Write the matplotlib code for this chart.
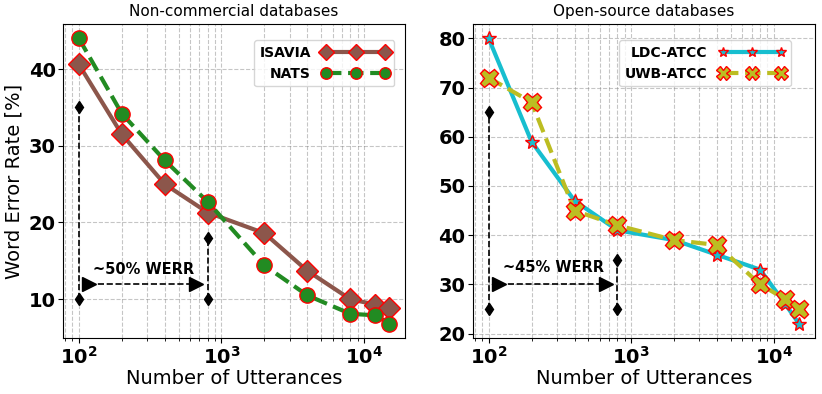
import numpy as np
import matplotlib
matplotlib.use("Agg")
import matplotlib.pyplot as plt
from matplotlib.ticker import FuncFormatter

plt.rcParams["font.weight"] = "bold"

# number of utterances used for fine-tuning
utterances = [100, 200, 400, 800, 2000, 4000, 8000, 12000, 15000]

# WER [%] per database
isavia = [40.6, 31.5, 25.0, 21.3, 18.6, 13.7, 10.0, 9.3, 8.8]
nats = [44.0, 34.2, 28.1, 22.7, 14.4, 10.5, 8.1, 7.9, 6.8]
ldc_atcc = [80, 59, 47, 41, 39, 36, 33, 26, 22]
uwb_atcc = [72, 67, 45, 42, 39, 38, 30, 27, 25]

titles = ["Non-commercial databases", "Open-source databases"]
werr_labels = ["~50% WERR", "~45% WERR"]


def pow10_label(v, pos):
    return r"$\mathbf{10^{%d}}$" % int(round(np.log10(v)))


def style_axis(ax):
    ax.set_xscale("log")
    ax.xaxis.set_major_formatter(FuncFormatter(pow10_label))
    ax.grid(True, which="both", linestyle="--", color="gray", alpha=0.45, linewidth=0.8)
    ax.tick_params(axis="both", which="major", labelsize=14, pad=2)
    ax.set_xlabel("Number of Utterances", fontsize=14, fontweight="normal", labelpad=1)


def draw_werr(ax, left_span, right_span, arrow_y, text, text_y):
    # vertical guides with diamond ends
    ax.plot([100, 100], left_span, "k--d", lw=1.2, ms=6)
    ax.plot([800, 800], right_span, "k--d", lw=1.2, ms=6)
    # horizontal arrow-ish line with triangle ends
    ax.plot([118, 660], [arrow_y, arrow_y], "k--", lw=1.2)
    ax.plot([118, 660], [arrow_y, arrow_y], "k>", ms=10, lw=0)
    ax.text(285, text_y, text, ha="center", va="bottom", fontsize=10.5, fontweight="bold")


fig, (ax1, ax2) = plt.subplots(1, 2, figsize=(8.22, 3.94), dpi=100)
fig.subplots_adjust(left=0.077, right=0.991, top=0.939, bottom=0.142, wspace=0.2)

ax1.plot(utterances, isavia, "-D", color="tab:brown", mec="red", ms=11, lw=3, label="ISAVIA")
ax1.plot(utterances, nats, "--o", color="forestgreen", mec="red", ms=11, lw=3, label="NATS")
ax1.set_ylabel("Word Error Rate [%]", fontsize=14, fontweight="normal")
ax1.set_title(titles[0], fontsize=11, fontweight="normal")
draw_werr(ax1, [10, 35], [10, 18], 12, werr_labels[0], 12.9)
style_axis(ax1)
ax1.set_yticks([10, 20, 30, 40])

ax2.plot(utterances, ldc_atcc, "-*", color="tab:cyan", mec="red", ms=10, lw=3, label="LDC-ATCC")
ax2.plot(utterances, uwb_atcc, "--X", color="tab:olive", mec="red", ms=13, lw=3, label="UWB-ATCC")
ax2.set_title(titles[1], fontsize=11, fontweight="normal")
draw_werr(ax2, [25, 65], [25, 35], 30, werr_labels[1], 32)
style_axis(ax2)

ax1.legend(loc="upper right", bbox_to_anchor=(0.99, 0.97), markerfirst=False,
           handlelength=4.8, numpoints=3, markerscale=0.75,
           prop={"weight": "bold", "size": 10})
ax2.legend(loc="upper right", bbox_to_anchor=(0.95, 0.97), markerfirst=False,
           handlelength=4.8, numpoints=3, markerscale=0.75,
           prop={"weight": "bold", "size": 10})

fig.savefig("out.png", dpi=100)
